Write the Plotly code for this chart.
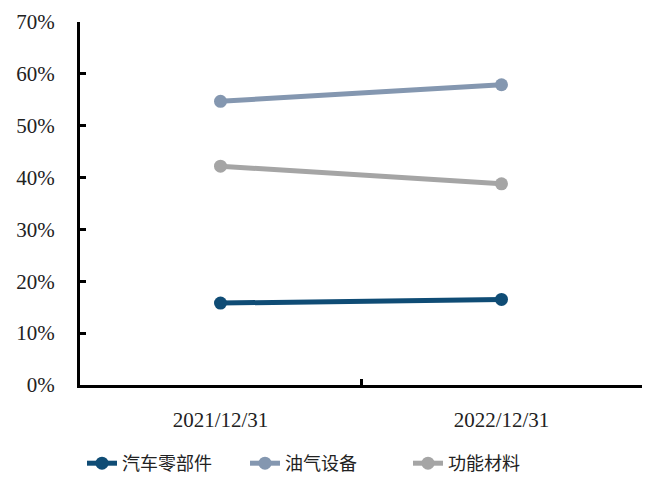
import plotly.graph_objects as go

categories = ["2021/12/31", "2022/12/31"]
auto_parts = [0.158, 0.165]
oil_gas_equipment = [0.547, 0.579]
functional_materials = [0.422, 0.388]

series = [
    ("汽车零部件", auto_parts, "#0F4C75"),
    ("油气设备", oil_gas_equipment, "#8497B0"),
    ("功能材料", functional_materials, "#A5A5A5"),
]

fig = go.Figure()
for name, values, color in series:
    fig.add_trace(go.Scatter(
        x=categories, y=values, name=name, mode="lines+markers",
        line=dict(color=color, width=5),
        marker=dict(color=color, size=13),
    ))

num_font = dict(family="Liberation Serif, serif", size=21, color="#222222")

fig.update_layout(
    width=649, height=482,
    margin=dict(l=80, r=7, t=22, b=97),
    plot_bgcolor="white", paper_bgcolor="white",
    showlegend=True,
    legend=dict(
        orientation="h", xref="container", x=82 / 649, xanchor="left",
        yref="container", y=-0.014, yanchor="bottom",
        font=dict(family="Noto Sans CJK SC, sans-serif", size=18, color="#222222"),
        entrywidth=118, entrywidthmode="pixels", tracegroupgap=0,
    ),
    xaxis=dict(
        type="category", range=[-0.5, 1.5],
        showline=True, linecolor="black", linewidth=3,
        ticks="inside", tickson="boundaries", ticklen=6, tickwidth=3, tickcolor="black",
        tickfont=num_font, ticklabelstandoff=14,
        showgrid=False, zeroline=False,
    ),
    yaxis=dict(
        range=[0, 0.7], dtick=0.1, tickformat=".0%",
        showline=True, linecolor="black", linewidth=3,
        ticks="inside", ticklen=6, tickwidth=3, tickcolor="black",
        tickfont=num_font, ticklabelstandoff=18,
        showgrid=False, zeroline=False,
    ),
)

fig.write_html("out.html")
